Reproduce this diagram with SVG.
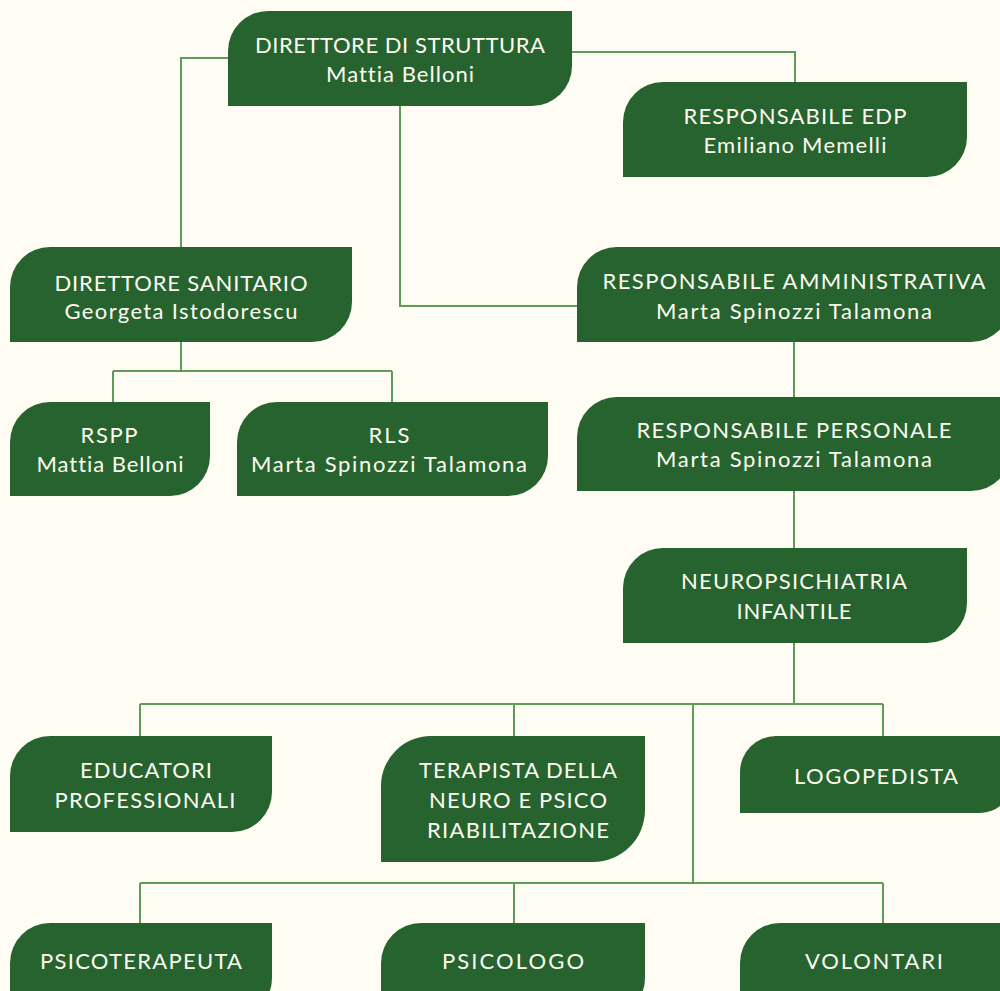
<svg xmlns="http://www.w3.org/2000/svg" width="1000" height="991" viewBox="0 0 1000 991">
<style>
.bg{fill:#FEFCF3}
.node{fill:#27632F}
.conn{fill:none;stroke:#5E9C59;stroke-width:2}
.t{font-family:Lato,"Noto Sans",sans-serif;font-size:22px;fill:#FDFBF1;text-anchor:middle;font-variant-ligatures:none}
.s{font-family:Lato,"Noto Sans",sans-serif;font-size:22px;fill:#FDFBF1;text-anchor:middle;font-variant-ligatures:none}
</style>
<rect class="bg" x="0" y="0" width="1000" height="991"/>
<g id="connectors">
<path class="conn" d="M228,58 H181 V247"/>
<path class="conn" d="M572,52 H795 V82"/>
<path class="conn" d="M400,106 V306 H577"/>
<path class="conn" d="M181,342 V371 M113,371 H392 M113,371 V402 M392,371 V402"/>
<path class="conn" d="M794,342 V397"/>
<path class="conn" d="M794,491 V548"/>
<path class="conn" d="M794,643 V704 M140,704 H883 M140,704 V736 M514,704 V736 M883,704 V736 M693,704 V883 M140,883 H883 M140,883 V923 M514,883 V923 M883,883 V923"/>
</g>
<g id="dir_struttura">
<path class="node" d="M228,51 A40,40 0 0 1 268,11 H572 V66 A40,40 0 0 1 532,106 H228 Z"/>
<text class="t" x="400" y="53" textLength="290">DIRETTORE DI STRUTTURA</text>
<text class="s" x="400" y="82" textLength="148">Mattia Belloni</text>
</g>
<g id="resp_edp">
<path class="node" d="M623,122 A40,40 0 0 1 663,82 H967 V137 A40,40 0 0 1 927,177 H623 Z"/>
<text class="t" x="795" y="124" textLength="223">RESPONSABILE EDP</text>
<text class="s" x="795" y="153" textLength="183">Emiliano Memelli</text>
</g>
<g id="dir_sanitario">
<path class="node" d="M10,287 A40,40 0 0 1 50,247 H352 V302 A40,40 0 0 1 312,342 H10 Z"/>
<text class="t" x="181" y="291" textLength="253">DIRETTORE SANITARIO</text>
<text class="s" x="181" y="319" textLength="233">Georgeta Istodorescu</text>
</g>
<g id="resp_amm">
<path class="node" d="M577,287 A40,40 0 0 1 617,247 H1011 V302 A40,40 0 0 1 971,342 H577 Z"/>
<text class="t" x="794" y="289" textLength="383">RESPONSABILE AMMINISTRATIVA</text>
<text class="s" x="794" y="319" textLength="276">Marta Spinozzi Talamona</text>
</g>
<g id="rspp">
<path class="node" d="M10,442 A40,40 0 0 1 50,402 H210 V456 A40,40 0 0 1 170,496 H10 Z"/>
<text class="t" x="109" y="443" textLength="57">RSPP</text>
<text class="s" x="110" y="472" textLength="147">Mattia Belloni</text>
</g>
<g id="rls">
<path class="node" d="M237,442 A40,40 0 0 1 277,402 H548 V456 A40,40 0 0 1 508,496 H237 Z"/>
<text class="t" x="389" y="443" textLength="41">RLS</text>
<text class="s" x="389" y="472" textLength="276">Marta Spinozzi Talamona</text>
</g>
<g id="resp_personale">
<path class="node" d="M577,437 A40,40 0 0 1 617,397 H1011 V451 A40,40 0 0 1 971,491 H577 Z"/>
<text class="t" x="794" y="438" textLength="315">RESPONSABILE PERSONALE</text>
<text class="s" x="794" y="467" textLength="276">Marta Spinozzi Talamona</text>
</g>
<g id="neuro">
<path class="node" d="M623,588 A40,40 0 0 1 663,548 H967 V603 A40,40 0 0 1 927,643 H623 Z"/>
<text class="t" x="794" y="589" textLength="226">NEUROPSICHIATRIA</text>
<text class="t" x="794" y="619" textLength="115">INFANTILE</text>
</g>
<g id="educatori">
<path class="node" d="M10,776 A40,40 0 0 1 50,736 H272 V792 A40,40 0 0 1 232,832 H10 Z"/>
<text class="t" x="146" y="778" textLength="132">EDUCATORI</text>
<text class="t" x="145" y="808" textLength="181">PROFESSIONALI</text>
</g>
<g id="terapista">
<path class="node" d="M381,786 A50,50 0 0 1 431,736 H645 V810 A52,52 0 0 1 593,862 H381 Z"/>
<text class="t" x="518" y="778" textLength="198">TERAPISTA DELLA</text>
<text class="t" x="518" y="808" textLength="178">NEURO E PSICO</text>
<text class="t" x="518" y="838" textLength="182">RIABILITAZIONE</text>
</g>
<g id="logopedista">
<path class="node" d="M740,772 A36,36 0 0 1 776,736 H1012 V781 A32,32 0 0 1 980,813 H740 Z"/>
<text class="t" x="876" y="784" textLength="164">LOGOPEDISTA</text>
</g>
<g id="psicoterapeuta">
<path class="node" d="M10,963 A40,40 0 0 1 50,923 H272 V978 A40,40 0 0 1 232,1018 H10 Z"/>
<text class="t" x="141" y="969" textLength="202">PSICOTERAPEUTA</text>
</g>
<g id="psicologo">
<path class="node" d="M381,963 A40,40 0 0 1 421,923 H645 V978 A40,40 0 0 1 605,1018 H381 Z"/>
<text class="t" x="513" y="969" textLength="142">PSICOLOGO</text>
</g>
<g id="volontari">
<path class="node" d="M740,963 A40,40 0 0 1 780,923 H1012 V978 A40,40 0 0 1 972,1018 H740 Z"/>
<text class="t" x="874" y="969" textLength="138">VOLONTARI</text>
</g>
</svg>
